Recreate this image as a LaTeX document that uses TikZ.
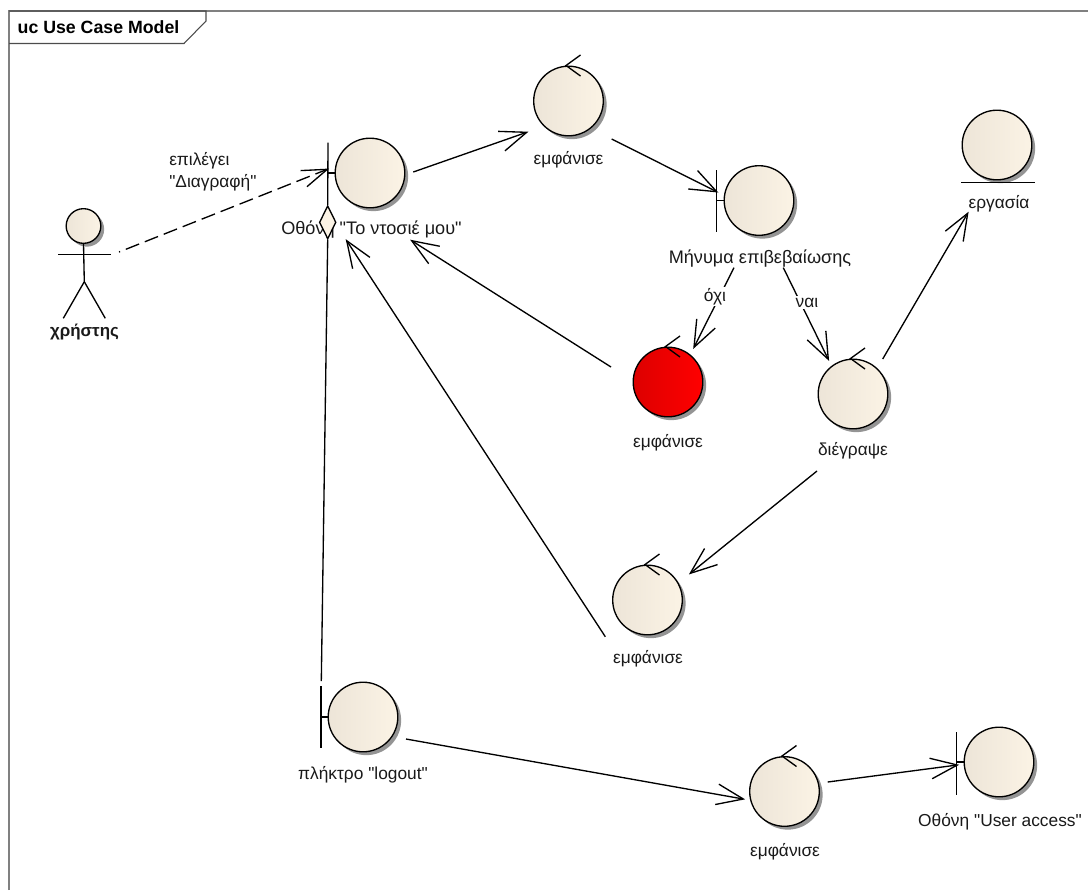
\documentclass[tikz,border=0pt]{standalone}
\usepackage{fontspec}
\newfontfamily\umlfont{Liberation Sans}
\usetikzlibrary{arrows.meta,shapes.geometric,shadows}
\definecolor{creamleft}{HTML}{EDE5D8}
\definecolor{creamright}{HTML}{FBF3E5}
\definecolor{redleft}{HTML}{DD0000}
\definecolor{framegray}{HTML}{808080}
\pgfdeclarearrow{
    name=OpenVee,
    defaults={length=20pt,width=16pt,line width=0pt 1 1},
    setup code={
        \pgfarrowssettipend{0pt}
        \pgfarrowssetlineend{-\pgfarrowlinewidth}
        \pgfarrowssetbackend{-\pgfarrowlength}
        \pgfarrowshullpoint{0pt}{0pt}
        \pgfarrowshullpoint{-\pgfarrowlength}{.5\pgfarrowwidth}
        \pgfarrowshullpoint{-\pgfarrowlength}{-.5\pgfarrowwidth}
        \pgfarrowssavethe\pgfarrowlength
        \pgfarrowssavethe\pgfarrowwidth
        \pgfarrowssavethe\pgfarrowlinewidth
    },
    drawing code={
        \pgfsetdash{}{+0pt}
        \pgfsetlinewidth{\pgfarrowlinewidth}
        \pgfpathmoveto{\pgfqpoint{-\pgfarrowlength}{.5\pgfarrowwidth}}
        \pgfpathlineto{\pgfqpoint{0pt}{0pt}}
        \pgfpathlineto{\pgfqpoint{-\pgfarrowlength}{-.5\pgfarrowwidth}}
        \pgfusepathqstroke
    },
    parameters={\the\pgfarrowlength,\the\pgfarrowwidth,\the\pgfarrowlinewidth},
}
\tikzset{
    ball/.style={circle,draw=black,line width=1pt,inner sep=0pt,outer sep=0pt,minimum size=52.2pt,
        left color=creamleft,middle color=creamright,right color=creamright,
        drop shadow={shadow xshift=2.5pt,shadow yshift=-2.5pt,fill=black!60,opacity=.7}},
    redball/.style={ball,left color=redleft,middle color=red,right color=red},
    head/.style={ball,minimum size=26pt},
    umlline/.style={line width=1pt,black},
    flow/.style={umlline,-{OpenVee[length=20pt,width=15.5pt]}},
    callflow/.style={umlline,-{OpenVee[length=19pt,width=13pt]},dash pattern=on 10.7pt off 4.6pt,dash phase=9.8pt},
    txt/.style={font=\umlfont\fontsize{13}{16.5}\selectfont,text=black!90,inner sep=0pt},
    widetxt/.style={txt,font=\umlfont\fontsize{13.6}{16.5}\selectfont},
    gaptxt/.style={txt,fill=white,inner ysep=1pt,inner xsep=0pt}
}
\begin{document}
\begin{tikzpicture}[x=0.75pt,y=-0.75pt]
        \useasboundingbox (0,0) rectangle (1088,890);
        % frame
        \draw[framegray,line width=1.5pt] (9,890) -- (9,11) -- (1088,11);
        \node[font=\umlfont\fontsize{13.3}{16}\selectfont\bfseries,inner sep=0pt] (T) at (98.5,27) {uc Use Case Model};
        \draw[line width=.8pt,black!70] (9,11) -- (206,11) -- (206,21) -- (184,43.5) -- (9,43.5);

        \node[head] (A) at (83.5,226) {};
        \node[txt,font=\umlfont\fontsize{12.7}{16}\selectfont\bfseries] (AA) at (84.5,332) {χρήστης};
        \node[ball] (B) at (370,173) {};
        \node[widetxt] (BB) at (371.5,230) {Οθόνη "Το ντοσιέ μου"};
        \node[ball] (C) at (568.5,101) {};
        \node[txt] (CC) at (568.5,160) {εμφάνισε};
        \node[ball] (D) at (759,200.5) {};
        \node[widetxt] (DD) at (760,258.5) {Μήνυμα επιβεβαίωσης};
        \node[redball] (E) at (668,382) {};
        \node[txt] (EE) at (668,443) {εμφάνισε};
        \node[ball] (F) at (853,394) {};
        \node[txt] (FF) at (853,451) {διέγραψε};
        \node[ball] (G) at (997,145) {};
        \node[txt] (GG) at (999,204) {εργασία};
        \node[ball] (H) at (647.5,600) {};
        \node[txt] (HH) at (648,659) {εμφάνισε};
        \node[ball] (I) at (363,717) {};
        \node[txt] (II) at (363,775) {πλήκτρο "logout"};
        \node[ball] (J) at (784.5,791.5) {};
        \node[txt] (JJ) at (785,851.5) {εμφάνισε};
        \node[ball] (K) at (999,762) {};
        \node[txt] (KK) at (1000,821.5) {Οθόνη "User access"};
        \node[txt,align=left,anchor=west] (S) at (169,171.5) {επιλέγει\\"Διαγραφή"};
        \node[diamond,draw=black,line width=1pt,fill=creamright,inner sep=0pt,minimum width=12.5pt,minimum height=25pt] (BD) at (327.7,222.3) {};

        % actor
        \draw[umlline] (A.south) -- ([shift={(0.8,55.7)}]A.center) -- ([shift={(-20.2,92.3)}]A.center);
        \draw[umlline] ([shift={(0.8,55.7)}]A.center) -- ([shift={(21.8,92.3)}]A.center);
        \draw[umlline] ([shift={(-25.2,28.3)}]A.center) -- ([shift={(27.2,28.3)}]A.center);

        % boundaries
        \draw[umlline] (B.west) -- ([shift={(-42,0)}]B.center);
        \draw[umlline] ([shift={(-42,-30.5)}]B.center) -- (BD.north);
        \draw[umlline] (D.west) -- ([shift={(-42.3,0)}]D.center);
        \draw[umlline] ([shift={(-42.3,-30.5)}]D.center) -- ([shift={(-42.3,31.8)}]D.center);
        \draw[umlline] (I.west) -- ([shift={(-42,0)}]I.center);
        \draw[umlline] ([shift={(-42,-31)}]I.center) -- ([shift={(-42,31)}]I.center);
        \draw[umlline] (K.west) -- ([shift={(-42.3,0)}]K.center);
        \draw[umlline] ([shift={(-42.3,-29.7)}]K.center) -- ([shift={(-42.3,33)}]K.center);
        % entity
        \draw[umlline] ([shift={(-36,37.3)}]G.center) -- ([shift={(37.7,37.3)}]G.center);
        % controls
        \draw[umlline] ([shift={(12,-46)}]C.center) -- ([shift={(-2.5,-35.5)}]C.center) -- ([shift={(12,-25)}]C.center);
        \draw[umlline] ([shift={(12,-46)}]E.center) -- ([shift={(-2.5,-35.5)}]E.center) -- ([shift={(12,-25)}]E.center);
        \draw[umlline] ([shift={(12,-46)}]F.center) -- ([shift={(-2.5,-35.5)}]F.center) -- ([shift={(12,-25)}]F.center);
        \draw[umlline] ([shift={(12,-46)}]H.center) -- ([shift={(-2.5,-35.5)}]H.center) -- ([shift={(12,-25)}]H.center);
        \draw[umlline] ([shift={(12,-46)}]J.center) -- ([shift={(-2.5,-35.5)}]J.center) -- ([shift={(12,-25)}]J.center);

        % connectors
        \draw[callflow] ([shift={(35.5,26)}]A.center) -- ([shift={(-42.7,-3.7)}]B.center);
        \draw[flow] ([shift={(43.3,-1)}]B.center) -- ([shift={(-41.8,31.3)}]C.center);
        \draw[flow] ([shift={(43.2,38)}]C.center) -- ([shift={(-42.3,-8.8)}]D.center);
        \draw[flow] ([shift={(-26,9.2)}]DD.center) -- ([shift={(26,-34.7)}]E.center);
        \draw[flow] ([shift={(23.3,9.2)}]DD.center) -- ([shift={(-24.7,-34.7)}]F.center);
        \draw[flow] ([shift={(29.7,-35)}]F.center) -- ([shift={(-29.3,68.3)}]G.center);
        \draw[flow] ([shift={(-36,20)}]FF.center) -- ([shift={(42.8,-26.7)}]H.center);
        \draw[flow] ([shift={(-57,-15)}]E.center) -- ([shift={(40.2,10.7)}]BB.center);
        \draw[flow] ([shift={(-42.2,36.7)}]H.center) -- ([shift={(-24.8,10.7)}]BB.center);
        \draw[flow] ([shift={(43,22)}]I.center) -- ([shift={(-41.2,7.5)}]J.center);
        \draw[flow] ([shift={(43.2,-9.5)}]J.center) -- ([shift={(-41.7,3)}]K.center);
        \draw[umlline] (BD.south) -- ([shift={(-41.7,-36)}]I.center);

        \node[gaptxt] (NO) at (715,296.5) {όχι};
        \node[gaptxt] (YES) at (807,302.5) {ναι};
\end{tikzpicture}
\end{document}
